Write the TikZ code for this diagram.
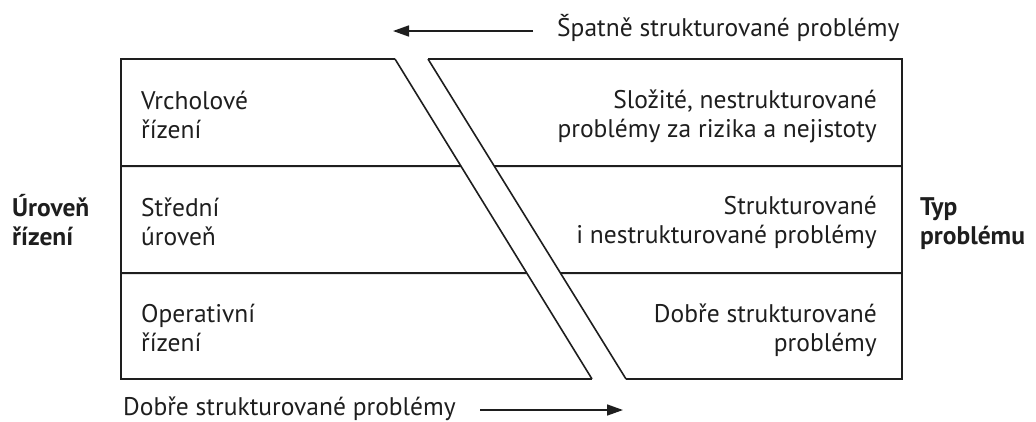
\documentclass[tikz,border=0pt]{standalone}
\usepackage{fontspec}
\setmainfont{PT Sans}
\usetikzlibrary{arrows.meta,calc}
\definecolor{ink}{HTML}{1E1E1E}
\tikzset{
  frame/.style={draw=ink, line width=2pt, line join=miter},
  slant/.style={draw=ink, line width=1.6pt},
  divider/.style={draw=ink, line width=2pt},
  txt/.style={inner sep=0pt, text=ink, font=\fontsize{25.5}{29}\selectfont},
  lefttxt/.style={txt, align=left, anchor=base west},
  righttxt/.style={txt, align=right, anchor=base east},
  boldtxt/.style={txt, align=left, anchor=base west, font=\fontsize{25.5}{29}\selectfont\bfseries},
  flow/.style={draw=ink, line width=1.6pt, -{Triangle[length=16pt,width=11pt]}}
}
\begin{document}
\begin{tikzpicture}[x=1pt,y=-1pt]
\useasboundingbox (0,0) rectangle (1036,421);
% corners
\coordinate (LTL) at (121,59);
\coordinate (LTR) at (395,59);
\coordinate (LBR) at (592,379);
\coordinate (LBL) at (121,379);
\coordinate (RTL) at (428,59);
\coordinate (RTR) at (902,59);
\coordinate (RBR) at (902,379);
\coordinate (RBL) at (626,379);
% divider endpoints
\coordinate (D1L) at (121,166);
\coordinate (D1A) at ($(LTR)!0.334375!(LBR)$);
\coordinate (D1B) at ($(RTL)!0.334375!(RBL)$);
\coordinate (D1R) at (902,166);
\coordinate (D2L) at (121,273);
\coordinate (D2A) at ($(LTR)!0.66875!(LBR)$);
\coordinate (D2B) at ($(RTL)!0.66875!(RBL)$);
\coordinate (D2R) at (902,273);
% shapes
\draw[frame] (LTR) -- (LTL) -- (LBL) -- (LBR);
\draw[slant] (LTR) -- (LBR);
\draw[frame] (RTL) -- (RTR) -- (RBR) -- (RBL);
\draw[slant] (RTL) -- (RBL);
\draw[divider] (D1L) -- (D1A);
\draw[divider] (D1B) -- (D1R);
\draw[divider] (D2L) -- (D2A);
\draw[divider] (D2B) -- (D2R);
% arrows
\coordinate (A1s) at (533,31);
\coordinate (A1e) at (393,31);
\coordinate (A2s) at (480,410);
\coordinate (A2e) at (623,410);
\draw[flow] (A1s) -- (A1e);
\draw[flow] (A2s) -- (A2e);
% texts (base anchor = baseline of the last line)
\node[lefttxt] (top) at (557,36) {Špatně strukturované problémy};
\node[lefttxt] (bottom) at (123,415) {Dobře strukturované problémy};
\node[lefttxt] (vr) at (141,138) {Vrcholové\\řízení};
\node[lefttxt] (st) at (141,245) {Střední\\úroveň};
\node[lefttxt] (op) at (141,351) {Operativní\\řízení};
\node[righttxt] (sl) at (877,137) {Složité, nestrukturované\\problémy za rizika a nejistoty};
\node[righttxt] (sk) at (877,243) {Strukturované\\i nestrukturované problémy};
\node[righttxt] (db) at (877,351) {Dobře strukturované\\problémy};
\node[boldtxt] (ur) at (12,245) {Úroveň\\řízení};
\node[boldtxt] (typ) at (920,244) {Typ\\problému};
\end{tikzpicture}
\end{document}
